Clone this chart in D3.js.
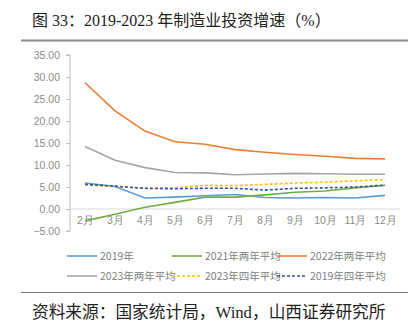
<!DOCTYPE html>
<html>
<head>
<meta charset="utf-8">
<script src="https://cdn.jsdelivr.net/npm/d3@7"></script>
<style>
  body { margin: 0; background: #fff; }
  svg { display: block; }
  .tick text { font-family: "Liberation Sans Narrow", "Liberation Sans", Arial, sans-serif; fill: #8c8c8c; }
</style>
</head>
<body>
<div id="chart"></div>
<script>
// months on the x axis
var months = ["2月", "3月", "4月", "5月", "6月", "7月", "8月", "9月", "10月", "11月", "12月"];

// cumulative growth, %
var y2019 = [5.9, 5.1, 2.5, 2.7, 3.0, 3.3, 2.6, 2.5, 2.6, 2.5, 3.1];
var avg2021 = [-2.7, -1.2, 0.4, 1.5, 2.7, 2.7, 3.2, 3.8, 4.1, 4.8, 5.4];
var avg2022 = [28.7, 22.3, 17.7, 15.3, 14.7, 13.5, 12.9, 12.4, 12.0, 11.5, 11.4];
var avg2023 = [14.2, 11.1, 9.4, 8.3, 8.2, 7.8, 7.95, 8.1, 8.0, 7.9, 7.9];
var fourYr2023 = [5.5, 5.1, 4.7, 4.8, 5.4, 5.3, 5.6, 5.9, 6.1, 6.4, 6.7];
var fourYr2019 = [5.6, 5.2, 4.7, 4.6, 4.7, 4.7, 4.3, 4.7, 4.8, 5.0, 5.4];

var yTicks = [-5, 0, 5, 10, 15, 20, 25, 30, 35];

var series = [
  { name: "2019年", values: y2019, color: "#5b9bd5", dash: null },
  { name: "2021年两年平均", values: avg2021, color: "#70ad47", dash: null },
  { name: "2022年两年平均", values: avg2022, color: "#ed7d31", dash: null },
  { name: "2023年两年平均", values: avg2023, color: "#a5a5a5", dash: null },
  { name: "2023年四年平均", values: fourYr2023, color: "#ffc000", dash: "3,2" },
  { name: "2019年四年平均", values: fourYr2019, color: "#2f5597", dash: "3,2" }
];

var svgWidth = 408;
var svgHeight = 333;

var margin = { top: 55, right: 8, bottom: 102, left: 70 };
var width = svgWidth - margin.left - margin.right;
var height = svgHeight - margin.top - margin.bottom;

var svg = d3.select("#chart")
  .append("svg")
  .attr("width", svgWidth)
  .attr("height", svgHeight);

// title and rules
svg.append("text")
  .attr("x", 32)
  .attr("y", 26)
  .attr("font-family", "'Liberation Serif', 'Noto Sans CJK SC', serif")
  .attr("font-size", 16)
  .attr("fill", "#222")
  .text("图 33：2019-2023 年制造业投资增速（%）");

svg.append("line")
  .attr("x1", 21).attr("x2", 408)
  .attr("y1", 40.5).attr("y2", 40.5)
  .attr("stroke", "#8a8a8a")
  .attr("stroke-width", 2);

svg.append("line")
  .attr("x1", 21).attr("x2", 408)
  .attr("y1", 292.5).attr("y2", 292.5)
  .attr("stroke", "#777")
  .attr("stroke-width", 1);

svg.append("text")
  .attr("x", 32)
  .attr("y", 318)
  .attr("font-family", "'Liberation Serif', 'Noto Sans CJK SC', serif")
  .attr("font-size", 16.7)
  .attr("fill", "#222")
  .text("资料来源：国家统计局，Wind，山西证券研究所");

var chartGroup = svg.append("g")
  .attr("transform", `translate(${margin.left}, ${margin.top})`);

var xScale = d3.scalePoint()
  .domain(months)
  .range([15, width - 15]);

var yScale = d3.scaleLinear()
  .domain([-5, 35])
  .range([height, 0]);

// left axis
var leftAxis = d3.axisLeft(yScale)
  .tickValues(yTicks)
  .tickFormat(d3.format(".2f"))
  .tickSize(4)
  .tickPadding(6);

var yAxis = chartGroup.append("g")
  .call(leftAxis);
yAxis.selectAll("path, line").attr("stroke", "#bfbfbf");
yAxis.select(".domain").attr("d", `M-4,${yScale(35)}H0V${yScale(-5)}H-4`);
yAxis.selectAll("text").attr("font-size", 10.5);

// zero line carries the month labels
var bottomAxis = d3.axisBottom(xScale)
  .tickSize(0)
  .tickPadding(8);

var xAxis = chartGroup.append("g")
  .attr("transform", `translate(0, ${yScale(0)})`)
  .call(bottomAxis);
xAxis.select(".domain").attr("stroke", "#d9d9d9").attr("d", `M0,0H${width}`);
xAxis.selectAll("text")
  .attr("font-size", 10.5)
  .attr("font-family", "'Liberation Sans Narrow', 'Noto Sans CJK SC', sans-serif");

var line = d3.line()
  .x((d, i) => xScale(months[i]))
  .y(d => yScale(d));

chartGroup.selectAll(".series")
  .data(series)
  .enter()
  .append("path")
  .attr("class", "series")
  .attr("fill", "none")
  .attr("stroke", d => d.color)
  .attr("stroke-width", 1.6)
  .attr("stroke-dasharray", d => d.dash)
  .attr("d", d => line(d.values));

// legend, two rows of three
var legendX = [67, 172, 277];
var legendY = [256, 276];

var legend = svg.selectAll(".legend")
  .data(series)
  .enter()
  .append("g")
  .attr("class", "legend")
  .attr("transform", (d, i) => `translate(${legendX[i % 3]}, ${legendY[Math.floor(i / 3)]})`);

legend.append("line")
  .attr("x1", 0).attr("x2", 30)
  .attr("y1", 0).attr("y2", 0)
  .attr("stroke", d => d.color)
  .attr("stroke-width", 1.6)
  .attr("stroke-dasharray", d => d.dash);

legend.append("text")
  .attr("x", 33)
  .attr("y", 3.5)
  .attr("font-family", "'Liberation Sans Narrow', 'Noto Sans CJK SC', sans-serif")
  .attr("font-size", 10.5)
  .attr("fill", "#808080")
  .text(d => d.name);
</script>
</body>
</html>
